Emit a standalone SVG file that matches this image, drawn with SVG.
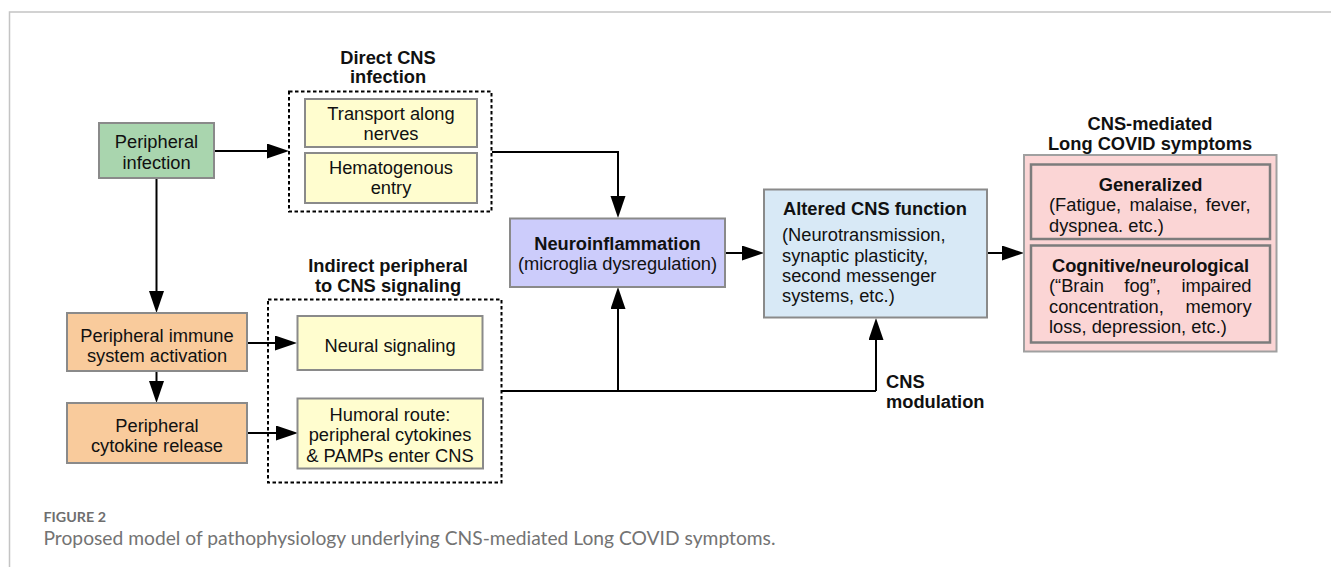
<svg xmlns="http://www.w3.org/2000/svg" width="1331" height="567" viewBox="0 0 1331 567">
<defs>
<marker id="ah" markerUnits="userSpaceOnUse" markerWidth="24" markerHeight="16" refX="12" refY="7.5" orient="auto">
<path d="M0,0 L22,7.5 L0,15 z" fill="#000"/>
</marker>
<style>
text{font-family:"Liberation Sans",Arial,sans-serif;font-size:18.3px;fill:#111}
.c{text-anchor:middle}
.b{font-weight:bold}
.box{stroke:#8a8a8a;stroke-width:2}
.dash{fill:none;stroke:#000;stroke-width:2;stroke-dasharray:3.5 2.5}
.wire{fill:none;stroke:#000;stroke-width:2;marker-end:url(#ah)}
.line{fill:none;stroke:#000;stroke-width:2}
.yel{fill:#fffdcf}
.org{fill:#f9cb9c}
.cap{font-family:Lato,"Open Sans",sans-serif;fill:#737373}
</style>
</defs>
<rect width="1331" height="567" fill="#fff"/>
<g id="frame"><path d="M9.5,567 V12 H1331" fill="none" stroke="#c4c4c4" stroke-width="1.5"/></g>

<g id="connectors">
<path class="wire" d="M214,151 H279"/>
<path class="wire" d="M156.5,178 V303"/>
<path class="wire" d="M156.5,371 V393"/>
<path class="wire" d="M247,343 H287"/>
<path class="wire" d="M247,433 H288"/>
<path class="wire" d="M492,152 H618 V208"/>
<path class="line" d="M502,391 H876"/>
<path class="wire" d="M618,391 V297"/>
<path class="wire" d="M876,391 V328"/>
<path class="wire" d="M725,253 H754"/>
<path class="wire" d="M987,253 H1014"/>
</g>

<g id="peripheral-infection">
<rect class="box" x="99" y="123" width="115" height="55" fill="#a9d5ae"/>
<text class="c" x="156.5" y="148">Peripheral</text>
<text class="c" x="156.5" y="168.5">infection</text>
</g>

<g id="direct-cns">
<text class="c b" x="388" y="63.5">Direct CNS</text>
<text class="c b" x="388" y="83">infection</text>
<rect class="dash" x="289" y="91.5" width="202.5" height="120"/>
</g>
<g id="transport">
<rect class="box yel" x="305" y="99" width="172" height="48"/>
<text class="c" x="391" y="119.5">Transport along</text>
<text class="c" x="391" y="140">nerves</text>
</g>
<g id="hematogenous">
<rect class="box yel" x="305" y="153" width="172" height="50"/>
<text class="c" x="391" y="174">Hematogenous</text>
<text class="c" x="391" y="194">entry</text>
</g>

<g id="immune-activation">
<rect class="box org" x="67" y="313" width="180" height="58"/>
<text class="c" x="157" y="342">Peripheral immune</text>
<text class="c" x="157" y="362">system activation</text>
</g>
<g id="cytokine-release">
<rect class="box org" x="67" y="403" width="180" height="60"/>
<text class="c" x="157" y="431.5">Peripheral</text>
<text class="c" x="157" y="452">cytokine release</text>
</g>

<g id="indirect">
<text class="c b" x="388" y="271.5">Indirect peripheral</text>
<text class="c b" x="388" y="291.5">to CNS signaling</text>
<rect class="dash" x="268" y="299.5" width="233.5" height="183"/>
</g>
<g id="neural-signaling">
<rect class="box yel" x="297.5" y="316" width="185" height="54"/>
<text class="c" x="390" y="351.5">Neural signaling</text>
</g>
<g id="humoral">
<rect class="box yel" x="297.5" y="398.5" width="185.5" height="70"/>
<text class="c" x="390" y="420.5">Humoral route:</text>
<text class="c" x="390" y="441">peripheral cytokines</text>
<text class="c" x="390" y="461.5">&amp; PAMPs enter CNS</text>
</g>

<g id="neuroinflammation">
<rect class="box" x="510" y="218.5" width="215" height="68.5" fill="#ccccfb"/>
<text class="c b" x="617.5" y="249.5">Neuroinflammation</text>
<text class="c" x="617.5" y="270">(microglia dysregulation)</text>
</g>

<g id="altered-cns">
<rect class="box" x="764" y="189.5" width="223" height="128" fill="#d8e9f6"/>
<text class="b" x="783" y="215">Altered CNS function</text>
<text x="782" y="241">(Neurotransmission,</text>
<text x="782" y="261.5">synaptic plasticity,</text>
<text x="782" y="282">second messenger</text>
<text x="782" y="302">systems, etc.)</text>
</g>

<g id="cns-modulation">
<text class="b" x="886" y="387.5">CNS</text>
<text class="b" x="886" y="407.5">modulation</text>
</g>

<g id="symptoms">
<text class="c b" x="1150" y="130">CNS-mediated</text>
<text class="c b" x="1150" y="150">Long COVID symptoms</text>
<rect x="1024" y="155" width="252.5" height="196.5" fill="#fbd5d5" stroke="#a0a0a0" stroke-width="2"/>
</g>
<g id="generalized">
<rect x="1031" y="164.5" width="239" height="74.5" fill="#fbd5d5" stroke="#7c7c7c" stroke-width="2.5"/>
<text class="c b" x="1150.5" y="190.5">Generalized</text>
<text x="1049" y="211" style="word-spacing:3.2px">(Fatigue, malaise, fever,</text>
<text x="1049" y="231.5">dyspnea. etc.)</text>
</g>
<g id="cognitive">
<rect x="1031" y="245.5" width="239" height="97" fill="#fbd5d5" stroke="#7c7c7c" stroke-width="2.5"/>
<text class="c b" x="1150.5" y="271.5">Cognitive/neurological</text>
<text x="1049" y="292" style="word-spacing:15.4px">(“Brain fog”, impaired</text>
<text x="1049" y="312.5" style="word-spacing:16.6px">concentration, memory</text>
<text x="1049" y="333">loss, depression, etc.)</text>
</g>

<g id="caption">
<text class="cap" x="43.5" y="521.5" style="font-size:14px;font-weight:bold;fill:#6e6e6e" textLength="62.5" lengthAdjust="spacingAndGlyphs">FIGURE 2</text>
<text class="cap" x="43.5" y="545" style="font-size:19px" textLength="732" lengthAdjust="spacingAndGlyphs">Proposed model of pathophysiology underlying CNS-mediated Long COVID symptoms.</text>
</g>
</svg>
